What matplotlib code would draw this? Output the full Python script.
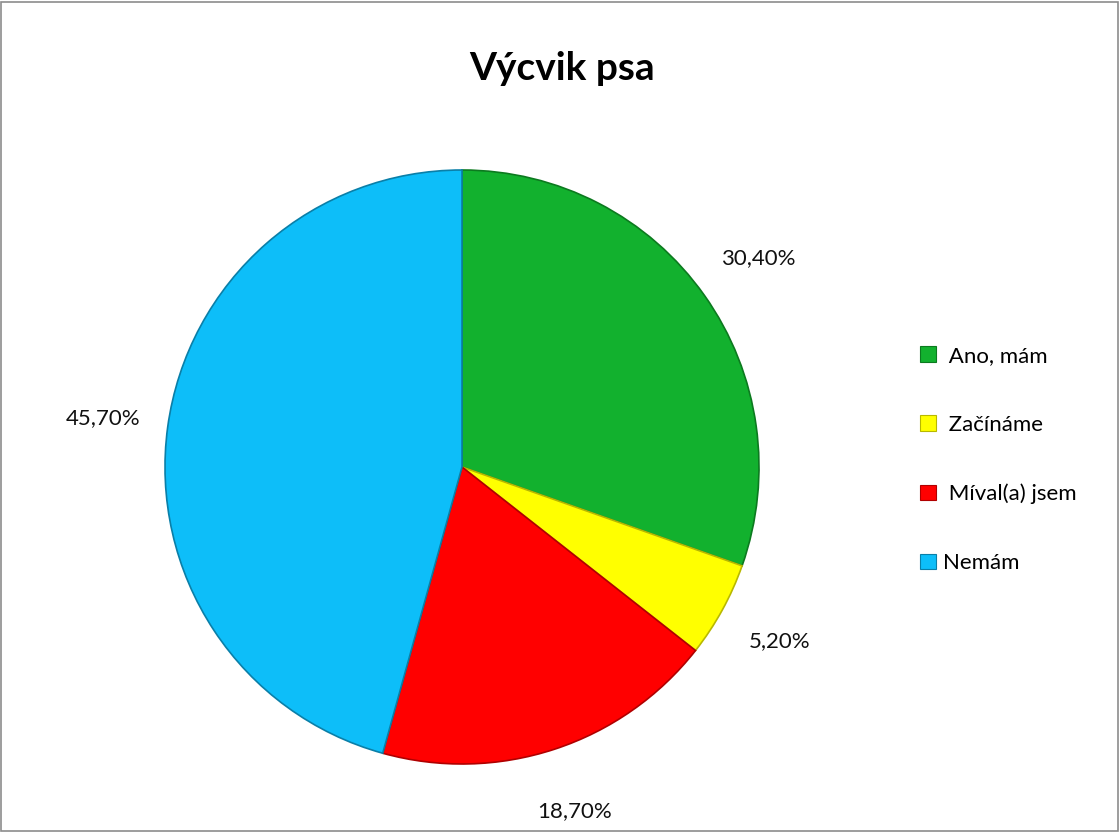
import matplotlib.pyplot as plt
from matplotlib.patches import Rectangle, Patch

plt.rcParams['font.family'] = ['Lato', 'DejaVu Sans']

categories = [' Ano, mám', ' Začínáme', ' Míval(a) jsem', 'Nemám']
values = [30.4, 5.2, 18.7, 45.7]
colors = ['#12B12E', '#FFFF00', '#FF0000', '#0DBEF9']
edges = ['#0C7A1F', '#B8B800', '#B00000', '#0A7FA8']

fig = plt.figure(figsize=(11.2, 8.32), dpi=100)
fig.patches.append(Rectangle((0.001, 0.001), 0.997, 0.997, transform=fig.transFigure,
                             fill=False, edgecolor='#8C8C8C', linewidth=1.2))

# pie axes: centre ~ (462, 467) px, radius ~ 297 px
r = 297
ax = fig.add_axes([(462 - r) / 1120, (832 - 467 - r) / 832, 2 * r / 1120, 2 * r / 832])
wedges, texts, autotexts = ax.pie(
    values, colors=colors, startangle=90, counterclock=False,
    autopct=lambda p: f'{p:.2f}%'.replace('.', ','), pctdistance=1.22,
    wedgeprops=dict(linewidth=1.2), textprops=dict(fontsize=16, color='#111111'))
for w, e in zip(wedges, edges):
    w.set_edgecolor(e)
ax.set_aspect('equal')
ax.set_xlim(-1, 1)
ax.set_ylim(-1, 1)

fig.text(562 / 1120, 1 - 68 / 832, 'Výcvik psa', ha='center', va='center',
         fontsize=28, fontweight='bold')

handles = [Patch(facecolor=c, edgecolor=e, linewidth=0.8) for c, e in zip(colors, edges)]
fig.legend(handles, categories, loc='upper left', bbox_to_anchor=(900 / 1120, 1 - 326 / 832),
           frameon=False, fontsize=16, handlelength=0.7, handleheight=0.7,
           handletextpad=0.35, labelspacing=2.2)

fig.savefig('out.png', dpi=100)
